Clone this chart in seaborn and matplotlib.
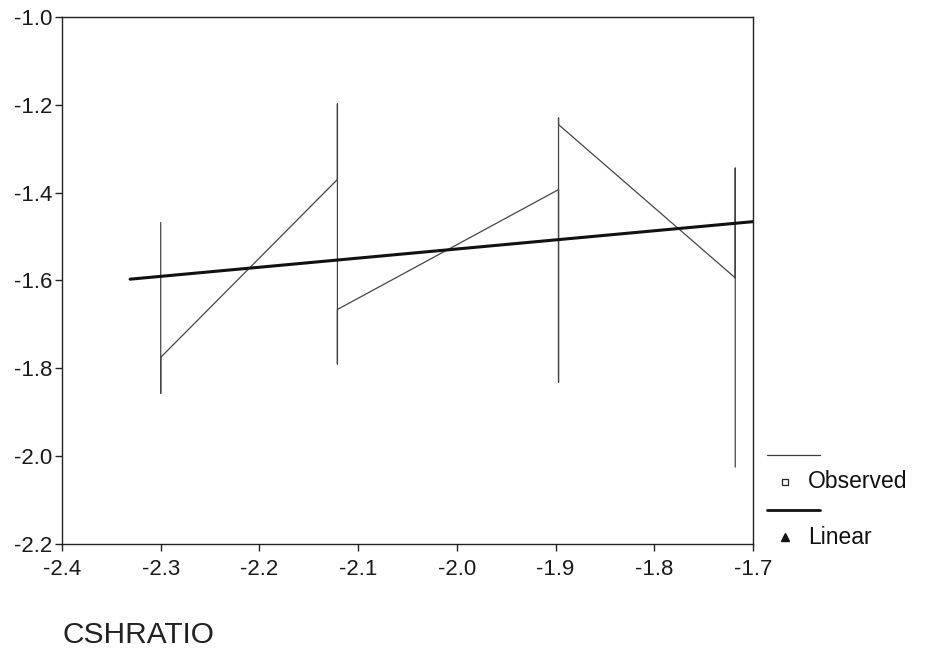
import matplotlib
matplotlib.use("Agg")
import matplotlib.pyplot as plt
from matplotlib.lines import Line2D
import seaborn as sns
import numpy as np

# ---- data ----
obs_x = [-2.30, -2.30, -2.30,
         -2.121, -2.121, -2.121, -2.121,
         -1.897, -1.897, -1.897, -1.897,
         -1.718, -1.718, -1.718]
obs_y = [-1.468, -1.857, -1.775,
         -1.370, -1.198, -1.790, -1.666,
         -1.393, -1.832, -1.230, -1.245,
         -1.594, -1.344, -2.025]
lin_x = [-2.331, -1.700]
lin_y = [-1.597, -1.466]
x_ticks = [-2.4, -2.3, -2.2, -2.1, -2.0, -1.9, -1.8, -1.7]
y_ticks = [-2.2, -2.0, -1.8, -1.6, -1.4, -1.2, -1.0]
legend_labels = ["Observed", "Linear"]
x_title = "CSHRATIO"

sns.set_style("white")
plt.rcParams["font.family"] = ["Liberation Sans", "DejaVu Sans"]
plt.rcParams["axes.unicode_minus"] = False

W, H = 928, 655
fig = plt.figure(figsize=(W / 100, H / 100), dpi=100)
ax = fig.add_axes([62 / W, 1 - 544 / H, (753 - 62) / W, (544 - 17) / H])

sns.lineplot(x=obs_x, y=obs_y, sort=False, estimator=None, ax=ax,
             color="#444444", linewidth=0.9)
sns.lineplot(x=lin_x, y=lin_y, sort=False, estimator=None, ax=ax,
             color="#111111", linewidth=2.2)

ax.set_xlim(-2.4, -1.7)
ax.set_ylim(-2.2, -1.0)
ax.set_xticks(x_ticks)
ax.set_yticks(y_ticks)
ax.set_xticklabels([f"{v:.1f}" for v in x_ticks])
ax.set_yticklabels([f"{v:.1f}" for v in y_ticks])
ax.tick_params(axis="both", which="major", direction="out", length=5,
               width=1.0, color="#222222", labelsize=16, labelcolor="#1a1a1a",
               left=True, bottom=True)
ax.tick_params(axis="y", pad=2)
ax.tick_params(axis="x", pad=6)
for s in ax.spines.values():
    s.set_visible(True)
    s.set_color("#222222")
    s.set_linewidth(1.0)
ax.set_xlabel("")
ax.set_ylabel("")

# x variable title below the plot
fig.text(63 / W, 1 - 635 / H, x_title, fontsize=21.5, color="#222222",
         va="center", ha="left")

# legend (SPSS style: line sample above marker + label)
def fx(px):
    return px / W

def fy(py):
    return 1 - py / H

fig.add_artist(Line2D([fx(767), fx(820)], [fy(455), fy(455)],
                      transform=fig.transFigure, color="#3a3a3a", lw=0.9))
fig.add_artist(Line2D([fx(785)], [fy(482)], transform=fig.transFigure,
                      marker="s", markersize=4.5, markerfacecolor="white",
                      markeredgecolor="#222222", markeredgewidth=0.9, ls="none"))
fig.text(fx(808), fy(482), legend_labels[0], fontsize=16.5, color="#111111",
         va="center", ha="left")
fig.add_artist(Line2D([fx(767), fx(820)], [fy(510), fy(510)],
                      transform=fig.transFigure, color="#111111", lw=2.0))
fig.add_artist(Line2D([fx(785)], [fy(537)], transform=fig.transFigure,
                      marker="^", markersize=6, markerfacecolor="#111111",
                      markeredgecolor="#111111", ls="none"))
fig.text(fx(808), fy(537), legend_labels[1], fontsize=16.5, color="#111111",
         va="center", ha="left")

fig.savefig("out.png", dpi=100, facecolor="white")
